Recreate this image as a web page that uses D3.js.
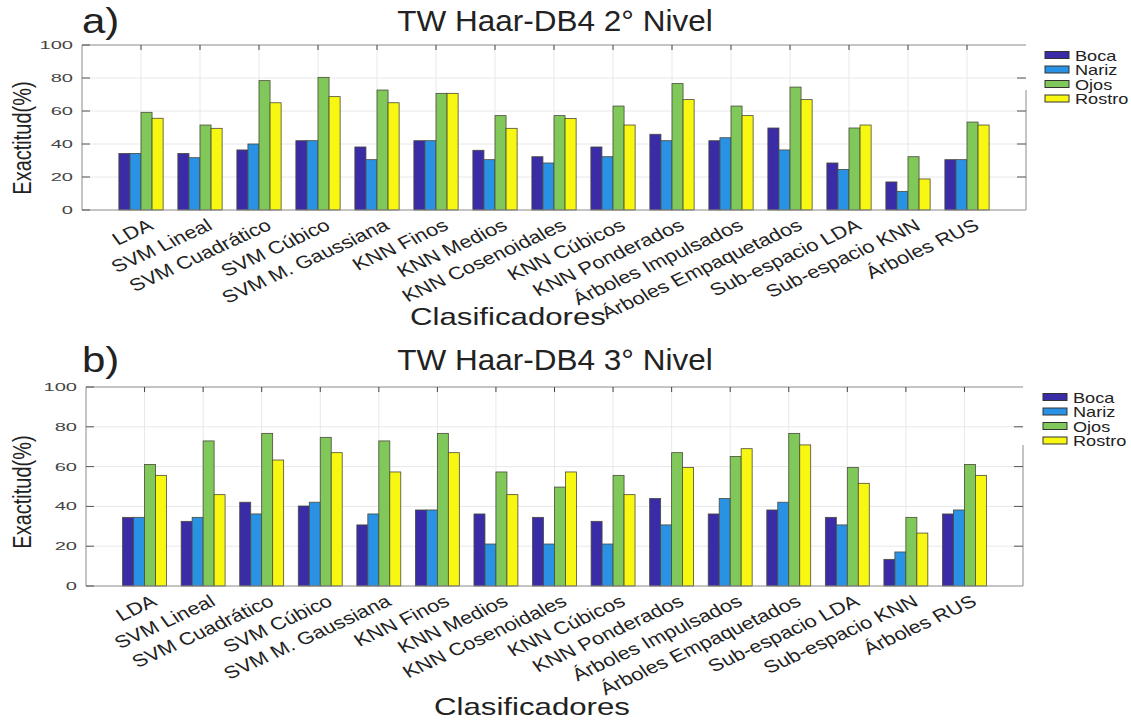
<!DOCTYPE html>
<html>
<head>
<meta charset="utf-8">
<script src="https://cdn.jsdelivr.net/npm/d3@7"></script>
<style>
  body { margin: 0; background: #fff; }
  svg text { font-family: "Liberation Sans", Arial, sans-serif; }
</style>
</head>
<body>
<div class="canvas"></div>
<script>
// data
const categories = ['LDA', 'SVM Lineal', 'SVM Cuadrático', 'SVM Cúbico', 'SVM M. Gaussiana',
    'KNN Finos', 'KNN Medios', 'KNN Cosenoidales', 'KNN Cúbicos', 'KNN Ponderados',
    'Árboles Impulsados', 'Árboles Empaquetados', 'Sub-espacio LDA', 'Sub-espacio KNN', 'Árboles RUS'];
const seriesNames = ['Boca', 'Nariz', 'Ojos', 'Rostro'];
const yTicks = [0, 20, 40, 60, 80, 100];

// 2° nivel
const boca2 = [34.3, 34.3, 36.4, 42.0, 38.2, 42.0, 36.2, 32.3, 38.2, 45.9, 42.0, 49.7, 28.5, 17.0, 30.5];
const nariz2 = [34.3, 31.7, 40.0, 42.0, 30.5, 42.0, 30.5, 28.5, 32.3, 42.0, 43.8, 36.4, 24.6, 11.3, 30.5];
const ojos2 = [59.2, 51.5, 78.4, 80.4, 72.7, 70.7, 57.2, 57.2, 63.0, 76.6, 63.0, 74.5, 49.7, 32.3, 53.3];
const rostro2 = [55.6, 49.5, 65.0, 68.7, 65.0, 70.7, 49.5, 55.4, 51.5, 66.9, 57.2, 66.9, 51.5, 18.8, 51.5];

// 3° nivel
const boca3 = [34.5, 32.5, 42.1, 40.2, 30.7, 38.2, 36.2, 34.5, 32.5, 44.0, 36.2, 38.2, 34.5, 13.4, 36.2];
const nariz3 = [34.5, 34.5, 36.2, 42.1, 36.2, 38.2, 21.1, 21.1, 21.1, 30.7, 44.0, 42.1, 30.7, 17.1, 38.2];
const ojos3 = [61.1, 72.9, 76.7, 74.7, 72.9, 76.7, 57.3, 49.7, 55.6, 67.0, 65.1, 76.7, 59.5, 34.5, 61.1];
const rostro3 = [55.6, 45.9, 63.3, 67.0, 57.3, 67.0, 45.9, 57.3, 45.9, 59.5, 69.0, 70.9, 51.6, 26.6, 55.6];

const colors = ['#3a2ca6', '#2a92e4', '#80c85a', '#f7f712'];

const svg = d3.select('.canvas')
    .append('svg')
    .attr('width', 1131)
    .attr('height', 721);

// helper: horizontally stretched text (the picture is widened)
const stretchText = (g, x, y, txt, size, sx, anchor) => g.append('text')
    .attr('transform', `translate(${x}, ${y}) scale(${sx}, 1)`)
    .attr('text-anchor', anchor || 'start')
    .attr('font-size', size)
    .attr('fill', '#222')
    .text(txt);

const drawChart = cfg => {
    const g = svg.append('g');
    const x = d3.scaleLinear().domain([0, 16]).range([cfg.left, cfg.right]);
    const y = d3.scaleLinear().domain([0, 100]).range([cfg.bottom, cfg.top]);
    const unit = x(1) - x(0);
    const barW = unit * 0.75 / 4;

    // grid
    g.selectAll('.hg').data(yTicks.filter(d => d > 0 && d < 100)).enter()
        .append('line')
        .attr('x1', cfg.left).attr('x2', cfg.right)
        .attr('y1', d => y(d)).attr('y2', d => y(d))
        .attr('stroke', '#e8e8e8');
    g.selectAll('.vg').data(categories).enter()
        .append('line')
        .attr('x1', (d, i) => x(i + 1)).attr('x2', (d, i) => x(i + 1))
        .attr('y1', cfg.top).attr('y2', cfg.bottom)
        .attr('stroke', '#e8e8e8');

    // bars
    cfg.values.forEach((vals, s) => {
        g.selectAll(`.b${s}`).data(vals).enter()
            .append('rect')
            .attr('x', (d, i) => x(i + 1) + (s - 2) * barW)
            .attr('width', barW)
            .attr('y', d => y(d))
            .attr('height', d => y(0) - y(d))
            .attr('fill', colors[s])
            .attr('stroke', '#4a4a3a')
            .attr('stroke-width', 0.8);
    });

    // frame: left, top, bottom, partial right
    const frame = '#8a8a8a';
    g.append('line').attr('x1', cfg.left).attr('x2', cfg.left)
        .attr('y1', cfg.top).attr('y2', cfg.bottom).attr('stroke', frame);
    g.append('line').attr('x1', cfg.left).attr('x2', cfg.right)
        .attr('y1', cfg.top).attr('y2', cfg.top).attr('stroke', frame);
    g.append('line').attr('x1', cfg.left).attr('x2', cfg.right)
        .attr('y1', cfg.bottom).attr('y2', cfg.bottom).attr('stroke', frame);
    g.append('line').attr('x1', cfg.right).attr('x2', cfg.right)
        .attr('y1', cfg.rightTop).attr('y2', cfg.bottom).attr('stroke', frame);

    // ticks
    g.selectAll('.tt').data(categories).enter()
        .append('line')
        .attr('x1', (d, i) => x(i + 1)).attr('x2', (d, i) => x(i + 1))
        .attr('y1', cfg.top).attr('y2', cfg.top + 5)
        .attr('stroke', '#444');
    g.selectAll('.lt').data(yTicks).enter()
        .append('line')
        .attr('x1', cfg.left).attr('x2', cfg.left + 8)
        .attr('y1', d => y(d)).attr('y2', d => y(d))
        .attr('stroke', '#555');
    g.selectAll('.rt').data(yTicks.filter(d => d > 0 && d < 100)).enter()
        .append('line')
        .attr('x1', cfg.right - 9).attr('x2', cfg.right)
        .attr('y1', d => y(d)).attr('y2', d => y(d))
        .attr('stroke', '#555');

    // y tick labels
    yTicks.forEach(t => {
        stretchText(g, cfg.left - 9, y(t) + 4, t, 11.5, 1.75, 'end')
            .attr('font-family', '"Liberation Serif", serif')
            .attr('fill', '#444');
    });

    // x tick labels rotated 30 deg, then widened
    categories.forEach((c, i) => {
        g.append('text')
            .attr('transform', `translate(${x(i + 1) + 6}, ${cfg.bottom + 8}) scale(1.25, 1) rotate(-30)`)
            .attr('text-anchor', 'end')
            .attr('dy', '0.7em')
            .attr('font-size', 17.5)
            .attr('fill', '#222')
            .text(c);
    });

    // labels and titles
    g.append('text')
        .attr('transform', `translate(${cfg.ylabX}, ${cfg.ylabY}) scale(1.25, 1) rotate(-90)`)
        .attr('text-anchor', 'middle')
        .attr('font-size', 20)
        .attr('fill', '#222')
        .text('Exactitud(%)');
    stretchText(g, cfg.xlabX, cfg.xlabY, 'Clasificadores', 24, 1.3, 'middle');
    stretchText(g, 82, cfg.titleY + 2, cfg.letter, 35, 1.2, 'start');
    stretchText(g, 555, cfg.titleY, cfg.title, 30, 1.05, 'middle');

    // legend
    seriesNames.forEach((n, i) => {
        const ly = cfg.legY + i * 14.5;
        g.append('rect')
            .attr('x', cfg.legX).attr('y', ly - 3.5)
            .attr('width', 24).attr('height', 7)
            .attr('fill', colors[i])
            .attr('stroke', '#333').attr('stroke-width', 1);
        stretchText(g, cfg.legX + 30, ly + 5.5, n, 14.5, 1.25, 'start');
    });
};

drawChart({
    left: 82, right: 1026, top: 45, bottom: 210, rightTop: 90,
    values: [boca2, nariz2, ojos2, rostro2],
    ylabX: 31, ylabY: 138, xlabX: 508, xlabY: 325,
    titleY: 31, letter: 'a)', title: 'TW Haar-DB4 2° Nivel',
    legX: 1045, legY: 55
});

drawChart({
    left: 86, right: 1023, top: 387, bottom: 586, rightTop: 445,
    values: [boca3, nariz3, ojos3, rostro3],
    ylabX: 31, ylabY: 492, xlabX: 532, xlabY: 715,
    titleY: 370, letter: 'b)', title: 'TW Haar-DB4 3° Nivel',
    legX: 1043, legY: 397
});
</script>
</body>
</html>
